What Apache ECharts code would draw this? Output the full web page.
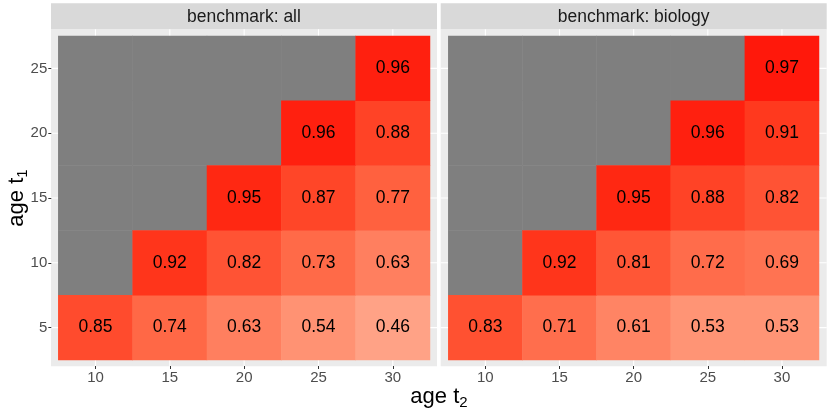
<!DOCTYPE html>
<html><head><meta charset="utf-8">
<script src="https://cdn.jsdelivr.net/npm/echarts@6/dist/echarts.min.js"></script>
<style>html,body{margin:0;padding:0;background:#fff}#c{width:830px;height:415px}</style>
</head><body><div id="c"></div>
<script>
// ---- data ----
const ageT2 = ['10', '15', '20', '25', '30'];
const ageT1 = ['5', '10', '15', '20', '25'];
const panels = ['benchmark: all', 'benchmark: biology'];
// rows = age t1 (5..25), cols = age t2 (10..30); null = NA
const valuesAll = [
  [0.85, 0.74, 0.63, 0.54, 0.46],
  [null, 0.92, 0.82, 0.73, 0.63],
  [null, null, 0.95, 0.87, 0.77],
  [null, null, null, 0.96, 0.88],
  [null, null, null, null, 0.96]
];
const valuesBiology = [
  [0.83, 0.71, 0.61, 0.53, 0.53],
  [null, 0.92, 0.81, 0.72, 0.69],
  [null, null, 0.95, 0.88, 0.82],
  [null, null, null, 0.96, 0.91],
  [null, null, null, null, 0.97]
];
const panelValues = [valuesAll, valuesBiology];

// ---- colour scale: white -> red interpolated in CIE Lab ----
function lab2hex(L, a, b) {
  const fy = (L + 16) / 116, fx = fy + a / 500, fz = fy - b / 200;
  const f = t => t > 6 / 29 ? t * t * t : 3 * (6 / 29) * (6 / 29) * (t - 4 / 29);
  const X = 0.95047 * f(fx), Y = f(fy), Z = 1.08883 * f(fz);
  let r = 3.2406 * X - 1.5372 * Y - 0.4986 * Z;
  let g = -0.9689 * X + 1.8758 * Y + 0.0415 * Z;
  let bb = 0.0557 * X - 0.2040 * Y + 1.0570 * Z;
  const gam = c => { c = Math.min(1, Math.max(0, c)); return c <= 0.0031308 ? 12.92 * c : 1.055 * Math.pow(c, 1 / 2.4) - 0.055; };
  const h = c => ('0' + Math.round(gam(c) * 255).toString(16)).slice(-2);
  return '#' + h(r) + h(g) + h(bb);
}
const colorStops = [];
for (let i = 0; i <= 20; i++) {
  const t = i / 20;
  colorStops.push(lab2hex(100 - 46.76 * t, 80.09 * t, 67.2 * t));
}

// ---- layout ----
const FONT = 'Liberation Sans, Arial, Helvetica, sans-serif';
const gridsLayout = [
  { left: 58.3, top: 36, width: 371.7, height: 324 },
  { left: 448.3, top: 36, width: 370.7, height: 324 }
];
const panelBg = [
  { x: 51, y: 29.3, w: 386, h: 337 },
  { x: 440.7, y: 29.3, w: 386, h: 337 }
];

const grids = gridsLayout.map(g => Object.assign({ containLabel: false }, g));
const xAxes = [], yAxes = [], series = [];
panelValues.forEach((vals, p) => {
  xAxes.push({
    type: 'category', gridIndex: p, data: ageT2, offset: 6,
    axisLine: { show: false },
    axisTick: { show: true, alignWithLabel: true, length: 3, lineStyle: { color: '#333333', width: 1 } },
    axisLabel: { color: '#4D4D4D', fontSize: 15, fontFamily: FONT, margin: 4 },
    splitLine: { show: false }
  });
  yAxes.push({
    type: 'category', gridIndex: p, data: ageT1, offset: 7,
    axisLine: { show: false },
    axisTick: { show: p === 0, alignWithLabel: true, length: 3, lineStyle: { color: '#333333', width: 1 } },
    axisLabel: { show: p === 0, color: '#4D4D4D', fontSize: 15, fontFamily: FONT, margin: 4 },
    splitLine: { show: false }
  });
  const naData = [], valData = [];
  vals.forEach((row, yi) => row.forEach((v, xi) => {
    if (v === null) naData.push([xi, yi, 0]); else valData.push([xi, yi, v]);
  }));
  series.push({
    type: 'heatmap', xAxisIndex: p, yAxisIndex: p, data: naData,
    itemStyle: { color: '#7F7F7F' }, label: { show: false },
    emphasis: { disabled: true }, silent: true
  });
  series.push({
    type: 'heatmap', xAxisIndex: p, yAxisIndex: p, data: valData,
    label: {
      show: true, color: '#000000', fontSize: 17.5, fontFamily: FONT,
      formatter: d => d.value[2].toFixed(2)
    },
    emphasis: { disabled: true }, silent: true
  });
});

const chart = echarts.init(document.getElementById('c'), null, { renderer: 'canvas' });
chart.setOption({
  animation: false,
  backgroundColor: '#ffffff',
  grid: grids, xAxis: xAxes, yAxis: yAxes, series: series,
  visualMap: [{
    type: 'continuous', show: false, min: -0.04, max: 1, dimension: 2,
    seriesIndex: [1, 3], inRange: { color: colorStops }
  }]
});

// ---- decorations: panel backgrounds, grid lines, strips, titles ----
const graphics = [];
panelBg.forEach((b, p) => {
  graphics.push({ type: 'rect', z: -10, silent: true, shape: { x: b.x, y: b.y, width: b.w, height: b.h }, style: { fill: '#EBEBEB' } });
  ageT2.forEach(c => {
    const px = chart.convertToPixel({ gridIndex: p }, [c, ageT1[0]])[0];
    graphics.push({ type: 'line', z: -9, silent: true, shape: { x1: px, y1: b.y, x2: px, y2: b.y + b.h }, style: { stroke: '#ffffff', lineWidth: 1.1 } });
  });
  ageT1.forEach(c => {
    const py = chart.convertToPixel({ gridIndex: p }, [ageT2[0], c])[1];
    graphics.push({ type: 'line', z: -9, silent: true, shape: { x1: b.x, y1: py, x2: b.x + b.w, y2: py }, style: { stroke: '#ffffff', lineWidth: 1.1 } });
  });
  graphics.push({ type: 'rect', z: -10, silent: true, shape: { x: b.x, y: 3.3, width: b.w, height: 26 }, style: { fill: '#D9D9D9' } });
  graphics.push({
    type: 'text', silent: true, x: b.x + b.w / 2, y: 16.8,
    style: { text: panels[p], fill: '#1A1A1A', font: '17.5px ' + FONT, align: 'center', verticalAlign: 'middle' }
  });
});
const titleRich = {
  a: { fontSize: 22, fontFamily: FONT, fill: '#000000', color: '#000000' },
  s: { fontSize: 15, fontFamily: FONT, fill: '#000000', color: '#000000', padding: [12, 0, 0, 0] }
};
graphics.push({
  type: 'text', silent: true, x: 439, y: 397,
  style: { text: '{a|age t}{s|2}', rich: titleRich, align: 'center', verticalAlign: 'middle', fill: '#000' }
});
graphics.push({
  type: 'text', silent: true, x: 17, y: 198, rotation: Math.PI / 2,
  style: { text: '{a|age t}{s|1}', rich: titleRich, align: 'center', verticalAlign: 'middle', fill: '#000' }
});
chart.setOption({ graphic: graphics });
</script></body></html>
